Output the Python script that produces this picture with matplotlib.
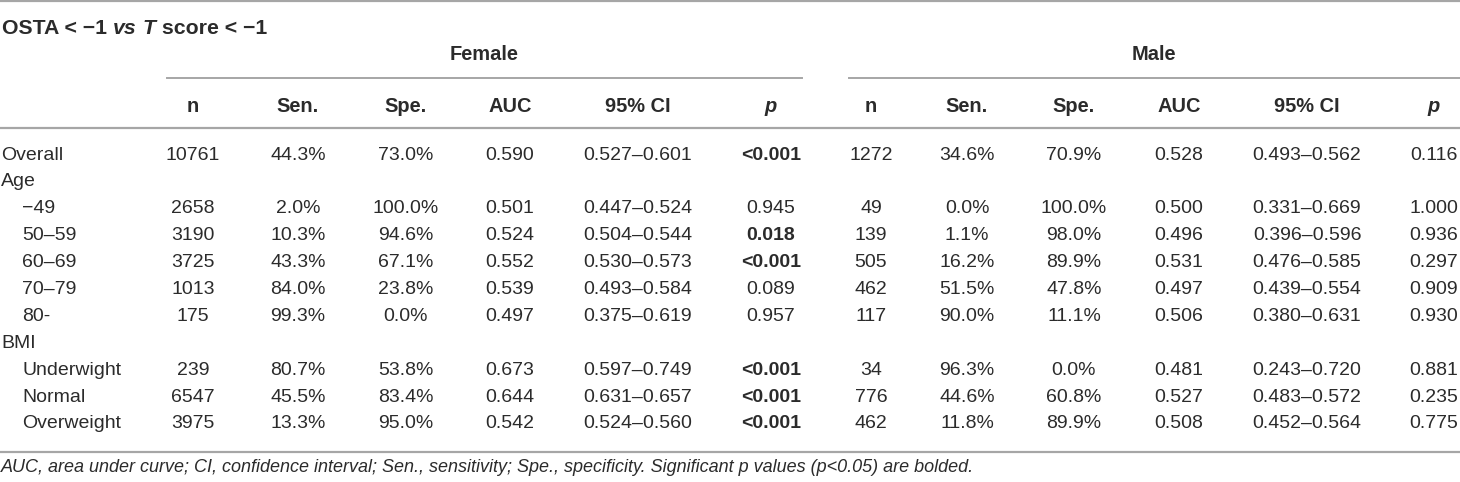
import matplotlib
matplotlib.use("Agg")
import matplotlib.pyplot as plt

# ---- table data ----
row_labels = ["Overall", "Age", "\u221249", "50\u201359", "60\u201369", "70\u201379", "80-",
              "BMI", "Underwight", "Normal", "Overweight"]
indented = [False, False, True, True, True, True, True, False, True, True, True]
has_data = [True, False, True, True, True, True, True, False, True, True, True]

col_headers = ["n", "Sen.", "Spe.", "AUC", "95% CI", "p"]

female_n = [10761, 2658, 3190, 3725, 1013, 175, 239, 6547, 3975]
female_sen = [44.3, 2.0, 10.3, 43.3, 84.0, 99.3, 80.7, 45.5, 13.3]
female_spe = [73.0, 100.0, 94.6, 67.1, 23.8, 0.0, 53.8, 83.4, 95.0]
female_auc = [0.590, 0.501, 0.524, 0.552, 0.539, 0.497, 0.673, 0.644, 0.542]
female_ci_lo = [0.527, 0.447, 0.504, 0.530, 0.493, 0.375, 0.597, 0.631, 0.524]
female_ci_hi = [0.601, 0.524, 0.544, 0.573, 0.584, 0.619, 0.749, 0.657, 0.560]
female_p = ["<0.001", "0.945", "0.018", "<0.001", "0.089", "0.957", "<0.001", "<0.001", "<0.001"]

male_n = [1272, 49, 139, 505, 462, 117, 34, 776, 462]
male_sen = [34.6, 0.0, 1.1, 16.2, 51.5, 90.0, 96.3, 44.6, 11.8]
male_spe = [70.9, 100.0, 98.0, 89.9, 47.8, 11.1, 0.0, 60.8, 89.9]
male_auc = [0.528, 0.500, 0.496, 0.531, 0.497, 0.506, 0.481, 0.527, 0.508]
male_ci_lo = [0.493, 0.331, 0.396, 0.476, 0.439, 0.380, 0.243, 0.483, 0.452]
male_ci_hi = [0.562, 0.669, 0.596, 0.585, 0.554, 0.631, 0.720, 0.572, 0.564]
male_p = ["0.116", "1.000", "0.936", "0.297", "0.909", "0.930", "0.881", "0.235", "0.775"]

footnote = ("AUC, area under curve; CI, confidence interval; Sen., sensitivity; "
            "Spe., specificity. Significant p values (p<0.05) are bolded.")

# ---- layout (pixel space) ----
W, H = 1460, 482
FONT = "Liberation Sans"
FS = 14.0
FS_HEAD = 14.4
TXT = "#2b2b2b"
RULE = "#a6a6a6"

female_x = [193, 298, 406, 510, 638, 771]
male_x = [871, 967, 1074, 1179, 1307, 1434]
row_y0, row_dy = 155, 26.9

fig = plt.figure(figsize=(W / 100, H / 100), dpi=100)
ax = fig.add_axes([0, 0, 1, 1])
ax.set_xlim(0, W)
ax.set_ylim(H, 0)
ax.axis("off")


def put(x, y, s, ha="center", weight="normal", style="normal", size=FS):
    return ax.text(x, y, s, ha=ha, va="center", fontsize=size, family=FONT,
                   weight=weight, style=style, color=TXT)


def put_pieces(x, y, pieces, size=FS):
    # draw a run of differently styled text pieces one after another
    r = fig.canvas.get_renderer()
    inv = ax.transData.inverted()
    for s, weight, style in pieces:
        t = put(x, y, s, ha="left", weight=weight, style=style, size=size)
        bb = t.get_window_extent(renderer=r)
        x = inv.transform((bb.x1, 0))[0]


# rules
ax.plot([0, W], [1, 1], color=RULE, lw=1.6)
ax.plot([0, W], [128, 128], color=RULE, lw=1.6)
ax.plot([0, W], [452, 452], color=RULE, lw=1.6)
ax.plot([167, 802], [78, 78], color=RULE, lw=1.4)
ax.plot([849, W], [78, 78], color=RULE, lw=1.4)

# title
put_pieces(2, 28, [("OSTA < \u22121 ", "bold", "normal"), ("vs", "bold", "italic"),
                   (" ", "bold", "normal"), ("T", "bold", "italic"),
                   (" score < \u22121", "bold", "normal")], size=15.3)

put(484, 55, "Female", weight="bold", size=FS_HEAD)
put(1154, 55, "Male", weight="bold", size=FS_HEAD)

for xs in (female_x, male_x):
    for x, h in zip(xs, col_headers):
        put(x, 106, h, weight="bold", style="italic" if h == "p" else "normal", size=FS_HEAD)

# body
k = 0
for i, lab in enumerate(row_labels):
    y = row_y0 + i * row_dy
    put(22 if indented[i] else 1, y, lab, ha="left")
    if not has_data[i]:
        continue
    for xs, n, sen, spe, auc, lo, hi, p in (
            (female_x, female_n, female_sen, female_spe, female_auc, female_ci_lo, female_ci_hi, female_p),
            (male_x, male_n, male_sen, male_spe, male_auc, male_ci_lo, male_ci_hi, male_p)):
        cells = [f"{n[k]}", f"{sen[k]:.1f}%", f"{spe[k]:.1f}%", f"{auc[k]:.3f}",
                 f"{lo[k]:.3f}\u2013{hi[k]:.3f}", p[k]]
        pv = 0.0 if p[k].startswith("<") else float(p[k])
        for j, (x, s) in enumerate(zip(xs, cells)):
            put(x, y, s, weight="bold" if (j == 5 and pv < 0.05) else "normal")
    k += 1

put(1, 468, footnote, ha="left", style="italic", size=13.0)

fig.savefig("out.png", dpi=100)
